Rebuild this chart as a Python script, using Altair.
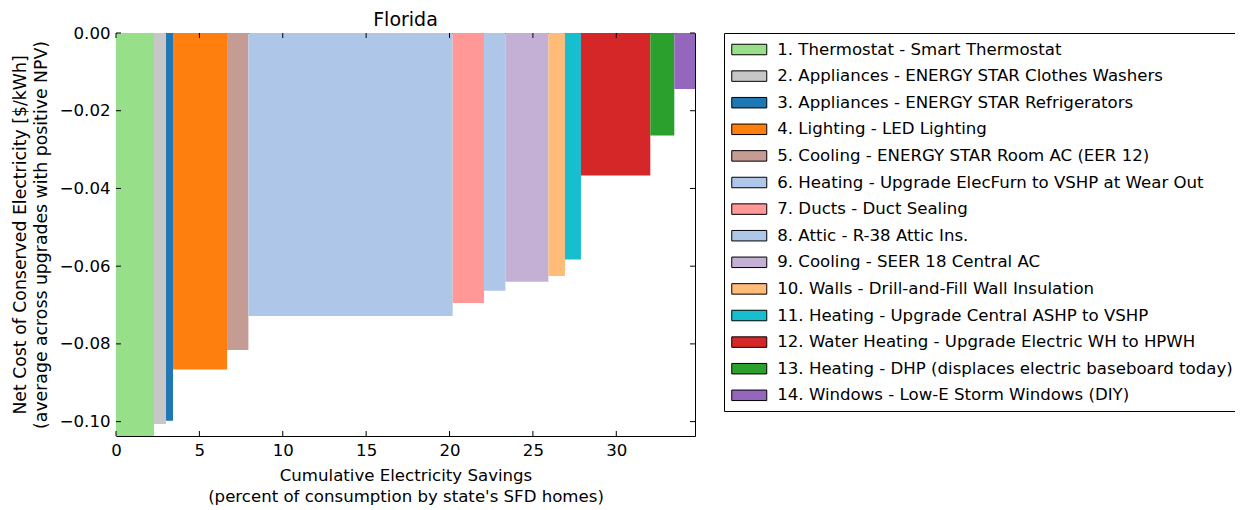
import altair as alt
import pandas as pd

labels = [
    "1. Thermostat - Smart Thermostat",
    "2. Appliances - ENERGY STAR Clothes Washers",
    "3. Appliances - ENERGY STAR Refrigerators",
    "4. Lighting - LED Lighting",
    "5. Cooling - ENERGY STAR Room AC (EER 12)",
    "6. Heating - Upgrade ElecFurn to VSHP at Wear Out",
    "7. Ducts - Duct Sealing",
    "8. Attic - R-38 Attic Ins.",
    "9. Cooling - SEER 18 Central AC",
    "10. Walls - Drill-and-Fill Wall Insulation",
    "11. Heating - Upgrade Central ASHP to VSHP",
    "12. Water Heating - Upgrade Electric WH to HPWH",
    "13. Heating - DHP (displaces electric baseboard today)",
    "14. Windows - Low-E Storm Windows (DIY)",
]
savings = [2.28, 0.72, 0.42, 3.24, 1.28, 12.25, 1.88, 1.28, 2.58, 0.99, 0.96, 4.16, 1.44, 1.24]
costs = [-0.107, -0.1006, -0.0998, -0.0866, -0.0816, -0.0728, -0.0695, -0.0663,
         -0.0640, -0.0625, -0.0583, -0.0367, -0.0264, -0.0144]
colors = ["#98df8a", "#c7c7c7", "#1f77b4", "#ff7f0e", "#c49c94", "#aec7e8", "#ff9896",
          "#aec7e8", "#c5b0d5", "#ffbb78", "#17becf", "#d62728", "#2ca02c", "#9467bd"]
x_ticks = [0, 5, 10, 15, 20, 25, 30]
y_ticks = [0.0, -0.02, -0.04, -0.06, -0.08, -0.10]

df = pd.DataFrame({"label": labels, "width": savings, "cost": costs})
df["end"] = df["width"].cumsum()
df["start"] = df["end"] - df["width"]

W, H = 579, 403
FONT = "DejaVu Sans"
FS = 16.6
xs = alt.Scale(domain=[0, 34.72], nice=False, zero=False)
ys = alt.Scale(domain=[-0.1037, 0], nice=False, zero=False)

xaxis = alt.Axis(
    values=x_ticks, ticks=False, tickSize=0, domain=False, grid=False,
    labelPadding=6, labelFlush=False, labelOverlap=False, labelFontSize=FS,
    title=["Cumulative Electricity Savings", "(percent of consumption by state's SFD homes)"],
    titleFontSize=FS, titleLineHeight=21, titlePadding=9)
yaxis = alt.Axis(
    values=y_ticks, format=".2f", ticks=False, tickSize=0, domain=False, grid=False,
    labelPadding=6, labelFlush=False, labelOverlap=False, labelFontSize=FS,
    title=["Net Cost of Conserved Electricity [$/kWh]", "(average across upgrades with positive NPV)"],
    titleFontSize=17.3, titleLineHeight=21, titlePadding=9)

bars = alt.Chart(df).mark_rect(clip=True).encode(
    x=alt.X("start:Q", scale=xs, axis=xaxis),
    x2="end:Q",
    y=alt.Y("cost:Q", scale=ys, axis=yaxis),
    y2=alt.datum(0),
    fill=alt.Fill("label:N", scale=alt.Scale(domain=labels, range=colors),
                  legend=alt.Legend(
                      title=None, orient="none", legendX=608, legendY=0,
                      symbolType="M-2,-0.6L2,-0.6L2,0.6L-2,0.6Z", symbolSize=306.25,
                      symbolOffset=8.75,
                      symbolStrokeColor="black", symbolStrokeWidth=1, symbolOpacity=1,
                      labelFontSize=FS, labelFont=FONT, labelColor="black", labelLimit=700,
                      labelOffset=18.5, rowPadding=7.6, padding=7, titlePadding=0,
                      strokeColor="black", fillColor="white")),
)

xt = pd.DataFrame({"start": x_ticks})
yt = pd.DataFrame({"cost": y_ticks})
bottom_ticks = alt.Chart(xt).mark_rule(color="black").encode(
    x=alt.X("start:Q", scale=xs, axis=xaxis), y=alt.value(H), y2=alt.value(H - 5))
top_ticks = alt.Chart(xt).mark_rule(color="black").encode(
    x=alt.X("start:Q", scale=xs, axis=xaxis), y=alt.value(0), y2=alt.value(5))
left_ticks = alt.Chart(yt).mark_rule(color="black").encode(
    y=alt.Y("cost:Q", scale=ys, axis=yaxis), x=alt.value(0), x2=alt.value(5))
right_ticks = alt.Chart(yt).mark_rule(color="black").encode(
    y=alt.Y("cost:Q", scale=ys, axis=yaxis), x=alt.value(W), x2=alt.value(W - 5))

chart = alt.layer(bars, bottom_ticks, top_ticks, left_ticks, right_ticks).properties(
    width=W, height=H,
    title=alt.TitleParams("Florida", fontSize=19, font=FONT, fontWeight="normal",
                          color="black", offset=-5),
    autosize=alt.AutoSizeParams(type="none"),
    padding={"left": 108, "top": 25, "right": 540, "bottom": 70},
).configure_view(stroke="black", strokeWidth=1).configure_axis(
    labelFont=FONT, labelColor="black",
    titleFont=FONT, titleFontWeight="normal", titleColor="black",
)

chart.save("out.html", embed_options={"renderer": "svg", "actions": False})
